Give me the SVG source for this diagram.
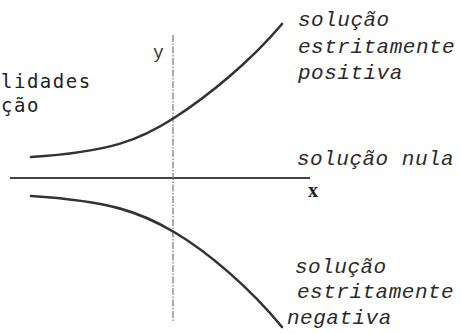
<svg xmlns="http://www.w3.org/2000/svg" width="461" height="333" viewBox="0 0 461 333">
<style>
.lbl{font-family:"Liberation Mono","Courier New",monospace;font-style:italic;font-size:21px;fill:#2a2a2a;letter-spacing:0.5px}
.side{font-family:"DejaVu Sans Mono",monospace;font-size:19px;fill:#222;letter-spacing:1.5px}
.curve{fill:none;stroke:#333;stroke-width:2.6;stroke-linecap:round}
</style>
<rect width="461" height="333" fill="#fff"/>
<g id="axes">
<line x1="10" y1="178" x2="310" y2="178" stroke="#444" stroke-width="2"/>
<line x1="173" y1="35" x2="173" y2="322" stroke="#777" stroke-width="1.2" stroke-dasharray="7,1.5,1.5,1.5"/>
<text x="153" y="58" font-family="Liberation Mono,monospace" font-size="18" fill="#333">y</text>
<text x="308" y="197" font-family="Liberation Serif,serif" font-weight="bold" font-size="20" fill="#222">x</text>
</g>
<g id="connectors">
<path class="curve" d="M31,157 C110,152 140,140 174,118 S250,62 282,24"/>
<path class="curve" d="M31,196 C110,201 140,212 174,232 S250,288 282,327"/>
</g>
<g id="side-text">
<text class="side" x="1" y="88">lidades</text>
<text class="side" x="1" y="112">ção</text>
</g>
<g id="positiva">
<text class="lbl" x="298" y="26">solução</text>
<text class="lbl" x="298" y="53">estritamente</text>
<text class="lbl" x="298" y="79">positiva</text>
</g>
<g id="nula">
<text class="lbl" x="297" y="165">solução nula</text>
</g>
<g id="negativa">
<text class="lbl" x="295" y="273">solução</text>
<text class="lbl" x="297" y="298">estritamente</text>
<text class="lbl" x="287" y="324">negativa</text>
</g>
</svg>
